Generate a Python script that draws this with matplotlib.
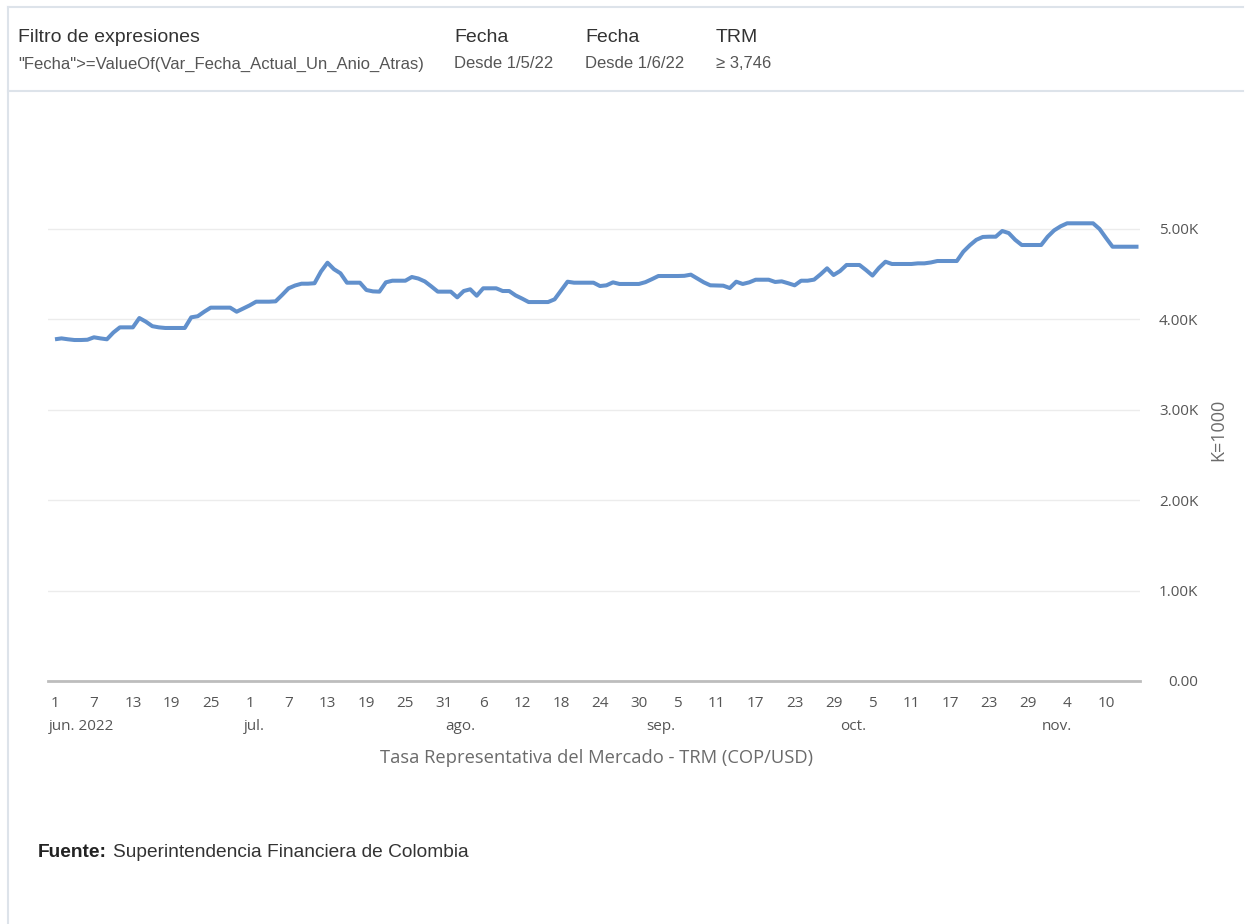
import matplotlib
matplotlib.use("Agg")
import matplotlib.pyplot as plt
from matplotlib.lines import Line2D
import numpy as np

# TRM diaria desde el 1 jun. 2022 (COP/USD)
trm = [
    3780, 3790, 3780, 3772, 3772, 3775, 3802, 3790, 3780, 3855,
    3912, 3912, 3912, 4015, 3975, 3925, 3912, 3905, 3905, 3905,
    3905, 4023, 4035, 4085, 4130, 4130, 4130, 4130, 4085, 4120,
    4155, 4196, 4196, 4196, 4200, 4270, 4344, 4375, 4395, 4395,
    4400, 4530, 4627, 4555, 4510, 4406, 4406, 4406, 4325, 4310,
    4307, 4410, 4428, 4428, 4428, 4469, 4452, 4420, 4365, 4307,
    4307, 4307, 4244, 4314, 4333, 4262, 4344, 4344, 4344, 4314,
    4314, 4265, 4230, 4192, 4192, 4192, 4192, 4222, 4320, 4417,
    4406, 4406, 4406, 4406, 4369, 4377, 4410, 4392, 4392, 4392,
    4392, 4412, 4445, 4480, 4480, 4480, 4480, 4482, 4495, 4452,
    4410, 4377, 4375, 4373, 4347, 4417, 4392, 4410, 4439, 4439,
    4439, 4414, 4421, 4400, 4377, 4428, 4428, 4440, 4499, 4565,
    4491, 4535, 4602, 4602, 4602, 4546, 4485, 4570, 4638, 4613,
    4613, 4613, 4613, 4620, 4620, 4630, 4646, 4646, 4646, 4646,
    4749, 4820, 4880, 4912, 4915, 4915, 4978, 4955, 4880, 4823,
    4823, 4823, 4823, 4915, 4985, 5030, 5063, 5063, 5063, 5063,
    5063, 5000, 4900, 4804, 4804, 4804, 4804, 4804,
]
dias = np.arange(len(trm))

# etiquetas del eje x (cada 6 dias) y meses
tick_dias = np.arange(0, 163, 6)
tick_labels = ["1", "7", "13", "19", "25", "1", "7", "13", "19", "25", "31",
               "6", "12", "18", "24", "30", "5", "11", "17", "23", "29",
               "5", "11", "17", "23", "29", "4", "10"]
mes_dias = [0, 30, 61, 92, 122, 153]
mes_labels = ["jun. 2022", "jul.", "ago.", "sep.", "oct.", "nov."]

y_ticks = [0, 1000, 2000, 3000, 4000, 5000]
y_labels = ["0.00", "1.00K", "2.00K", "3.00K", "4.00K", "5.00K"]

W, H = 1254, 924
fig = plt.figure(figsize=(W / 100, H / 100), dpi=100)
plt.rcParams['font.family'] = ['Open Sans', 'DejaVu Sans']

def fx(px):
    return px / W

def fy(py):
    return 1 - py / H

# marco del panel
borde = '#dde3ea'
fig.add_artist(Line2D([fx(8), fx(1243)], [fy(7), fy(7)], color=borde, lw=1.5))
fig.add_artist(Line2D([fx(8), fx(1243)], [fy(91), fy(91)], color=borde, lw=1.5))
fig.add_artist(Line2D([fx(8), fx(8)], [fy(7), 0], color=borde, lw=1.5))

# cabecera de filtros
hf = ['Liberation Sans', 'DejaVu Sans']
fig.text(fx(18), fy(37), "Filtro de expresiones", fontsize=14, color='#333333',
         va='center', family=hf)
fig.text(fx(18), fy(64), '"Fecha">=ValueOf(Var_Fecha_Actual_Un_Anio_Atras)', fontsize=12,
         color='#555555', va='center', family=hf)
for xx, t1, t2 in [(454, "Fecha", "Desde 1/5/22"), (585, "Fecha", "Desde 1/6/22"),
                   (716, "TRM", "\u2265 3,746")]:
    fig.text(fx(xx), fy(37), t1, fontsize=14, color='#333333', va='center', family=hf)
    fig.text(fx(xx), fy(64), t2, fontsize=12, color='#555555', va='center', family=hf)

# area del grafico
ymax = 5300
top_px = 681 - ymax * 452 / 5000
ax = fig.add_axes([fx(48), fy(681), fx(1140) - fx(48), (681 - top_px) / H])
ax.plot(dias, trm, color='#6190cc', lw=2.9, solid_joinstyle='round', solid_capstyle='butt')
ax.set_xlim(-7 / 6.488, (1140 - 55) / 6.488)
ax.set_ylim(0, ymax)

for s in ['top', 'left', 'right']:
    ax.spines[s].set_visible(False)
ax.spines['bottom'].set_color('#bdbdbd')
ax.spines['bottom'].set_linewidth(2)

ax.yaxis.tick_right()
ax.set_yticks(y_ticks)
ax.set_yticklabels(y_labels)
ax.grid(axis='y', color='#ececec', lw=1)
ax.set_axisbelow(True)
ax.tick_params(axis='y', length=0, pad=42, labelsize=11, labelcolor='#555555')
for lab in ax.get_yticklabels():
    lab.set_ha('right')

ax.set_xticks(tick_dias)
ax.set_xticklabels(tick_labels)
ax.tick_params(axis='x', length=0, pad=10.5, labelsize=11, labelcolor='#555555')

for d, m in zip(mes_dias, mes_labels):
    ax.annotate(m, xy=(d, 0), xycoords=('data', 'axes fraction'), xytext=(-6, -46),
                textcoords='offset pixels', ha='left', va='center', fontsize=11,
                color='#555555')

fig.text(fx(596), fy(758), "Tasa Representativa del Mercado - TRM (COP/USD)",
         fontsize=13.2, color='#6b6b6b', ha='center', va='center')
fig.text(fx(1218), fy(430), "K=1000", fontsize=13, color='#6b6b6b', rotation=90,
         ha='center', va='center')

# fuente
t = fig.text(fx(38), fy(857), "Fuente:", fontsize=13.8, weight='bold', color='#222222',
             va='baseline', family=hf)
fig.canvas.draw()
bb = t.get_window_extent()
fig.text((bb.x1 + 6) / W, fy(857), "Superintendencia Financiera de Colombia", fontsize=13.8,
         color='#333333', va='baseline', family=hf)

fig.savefig("out.png", dpi=100, facecolor='white')
